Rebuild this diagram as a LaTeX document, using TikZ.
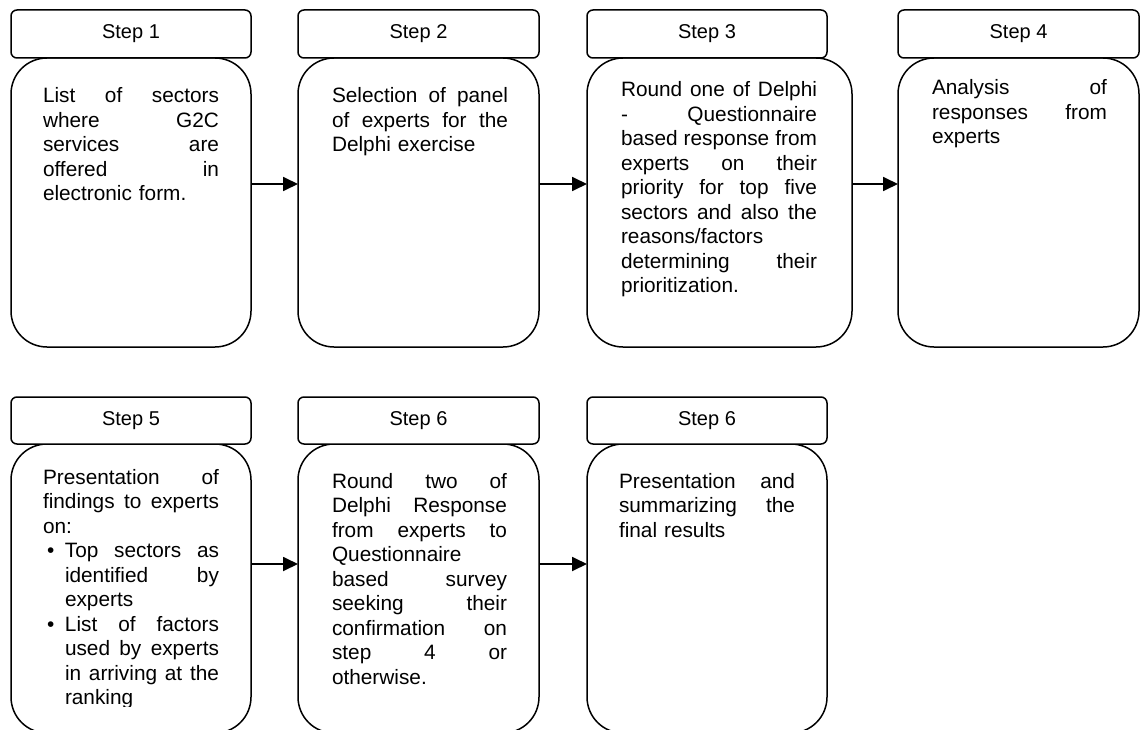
\documentclass[tikz,border=0pt]{standalone}
\usepackage{fontspec}
\setmainfont{Liberation Sans}
\usetikzlibrary{arrows.meta}

% width of the text column of the current box
\newlength\colw
% stretchable word space for justified lines
\newcommand\stretchspace{\spaceskip=\fontdimen2\font plus 1fil\relax}
% one justified line, filling the column
\newcommand\JLine[1]{\makebox[\colw][s]{\stretchspace#1}\par}
% a bulleted, justified line
\newcommand\BLine[1]{\makebox[\colw][l]{\makebox[22pt][l]{\hspace*{4pt}\textbullet}\makebox[\dimexpr\colw-22pt\relax][s]{\stretchspace#1}}\par}
% an indented, justified continuation line
\newcommand\IJLine[1]{\makebox[\colw][l]{\hspace*{22pt}\makebox[\dimexpr\colw-22pt\relax][s]{\stretchspace#1}}\par}
% an indented, ragged continuation line
\newcommand\ILine[1]{\hspace*{22pt}#1\par}

\begin{document}
\begin{tikzpicture}[x=1pt,y=-1pt,
  head/.style={draw, fill=white, line width=1.5pt, rounded corners=6pt, anchor=north west,
    inner sep=0pt, outer sep=0pt, font=\fontsize{20}{24}\selectfont},
  body/.style={draw, fill=white, line width=1.5pt, rounded corners=36pt, anchor=north west,
    inner sep=0pt, outer sep=0pt},
  para/.style={anchor=base west, inner sep=0pt, outer sep=0pt, align=left, text width=#1,
    font=\fontsize{20.8}{24.5}\selectfont\setlength\colw{#1}},
  flow/.style={line width=1.8pt, -{Triangle[length=15pt,width=14pt]}}]

\useasboundingbox (0,0) rectangle (1142,730);
\clip (0,0) rectangle (1142,730);

% ---------- first row ----------
\node[body, minimum width=240pt, minimum height=289pt] (b1) at (11,58) {};
\node[body, minimum width=241pt, minimum height=289pt] (b2) at (298,58) {};
\node[body, minimum width=265pt, minimum height=289pt] (b3) at (587,58) {};
\node[body, minimum width=241pt, minimum height=289pt] (b4) at (898,58) {};

\node[head, minimum width=240pt, minimum height=48pt] (h1) at (11,10) {Step 1};
\node[head, minimum width=241pt, minimum height=48pt] (h2) at (298,10) {Step 2};
\node[head, minimum width=240pt, minimum height=48pt] (h3) at (587,10) {Step 3};
\node[head, minimum width=241pt, minimum height=48pt] (h4) at (898,10) {Step 4};

\node[para=176pt] (t1) at (43,103) {%
  \JLine{List of sectors}\JLine{where G2C}\JLine{services are}\JLine{offered in}electronic form.};
\node[para=176pt] (t2) at (332,103) {%
  \JLine{Selection of panel}\JLine{of experts for the}Delphi exercise};
\node[para=196pt] (t3) at (621,97) {%
  \JLine{Round one of Delphi}\JLine{- Questionnaire}\JLine{based response from}%
  \JLine{experts on their}\JLine{priority for top five}\JLine{sectors and also the}%
  reasons/factors\par\JLine{determining their}prioritization.};
\node[para=175pt] (t4) at (932,95) {%
  \JLine{Analysis of}\JLine{responses from}experts};

\draw[flow] (b1.east |- 0,184) -- (b2.west |- 0,184);
\draw[flow] (b2.east |- 0,184) -- (b3.west |- 0,184);
\draw[flow] (b3.east |- 0,184) -- (b4.west |- 0,184);

% ---------- second row ----------
\node[body, minimum width=240pt, minimum height=289pt] (b5) at (11,444) {};
\node[body, minimum width=241pt, minimum height=289pt] (b6) at (298,444) {};
\node[body, minimum width=240pt, minimum height=289pt] (b7) at (587,444) {};

\node[head, minimum width=240pt, minimum height=47pt] (h5) at (11,397) {Step 5};
\node[head, minimum width=241pt, minimum height=47pt] (h6) at (298,397) {Step 6};
\node[head, minimum width=240pt, minimum height=47pt] (h7) at (587,397) {Step 6};

% the text frame of step 5 is too short for its last line
\begin{scope}
  \clip (11,444) rectangle (251,706.5);
  \node[para=176pt] (t5) at (43,484) {%
    \JLine{Presentation of}\JLine{findings to experts}on:\par
    \BLine{Top sectors as}\IJLine{identified by}\ILine{experts}%
    \BLine{List of factors}\IJLine{used by experts}\IJLine{in arriving at the}\ILine{ranking}};
\end{scope}
\node[para=175pt] (t6) at (332,488) {%
  \JLine{Round two of}\JLine{Delphi Response}\JLine{from experts to}Questionnaire\par
  \JLine{based survey}\JLine{seeking their}\JLine{confirmation on}\JLine{step 4 or}otherwise.};
\node[para=176pt] (t7) at (619,488) {%
  \JLine{Presentation and}\JLine{summarizing the}final results};

\draw[flow] (b5.east |- 0,564) -- (b6.west |- 0,564);
\draw[flow] (b6.east |- 0,564) -- (b7.west |- 0,564);
\end{tikzpicture}
\end{document}
